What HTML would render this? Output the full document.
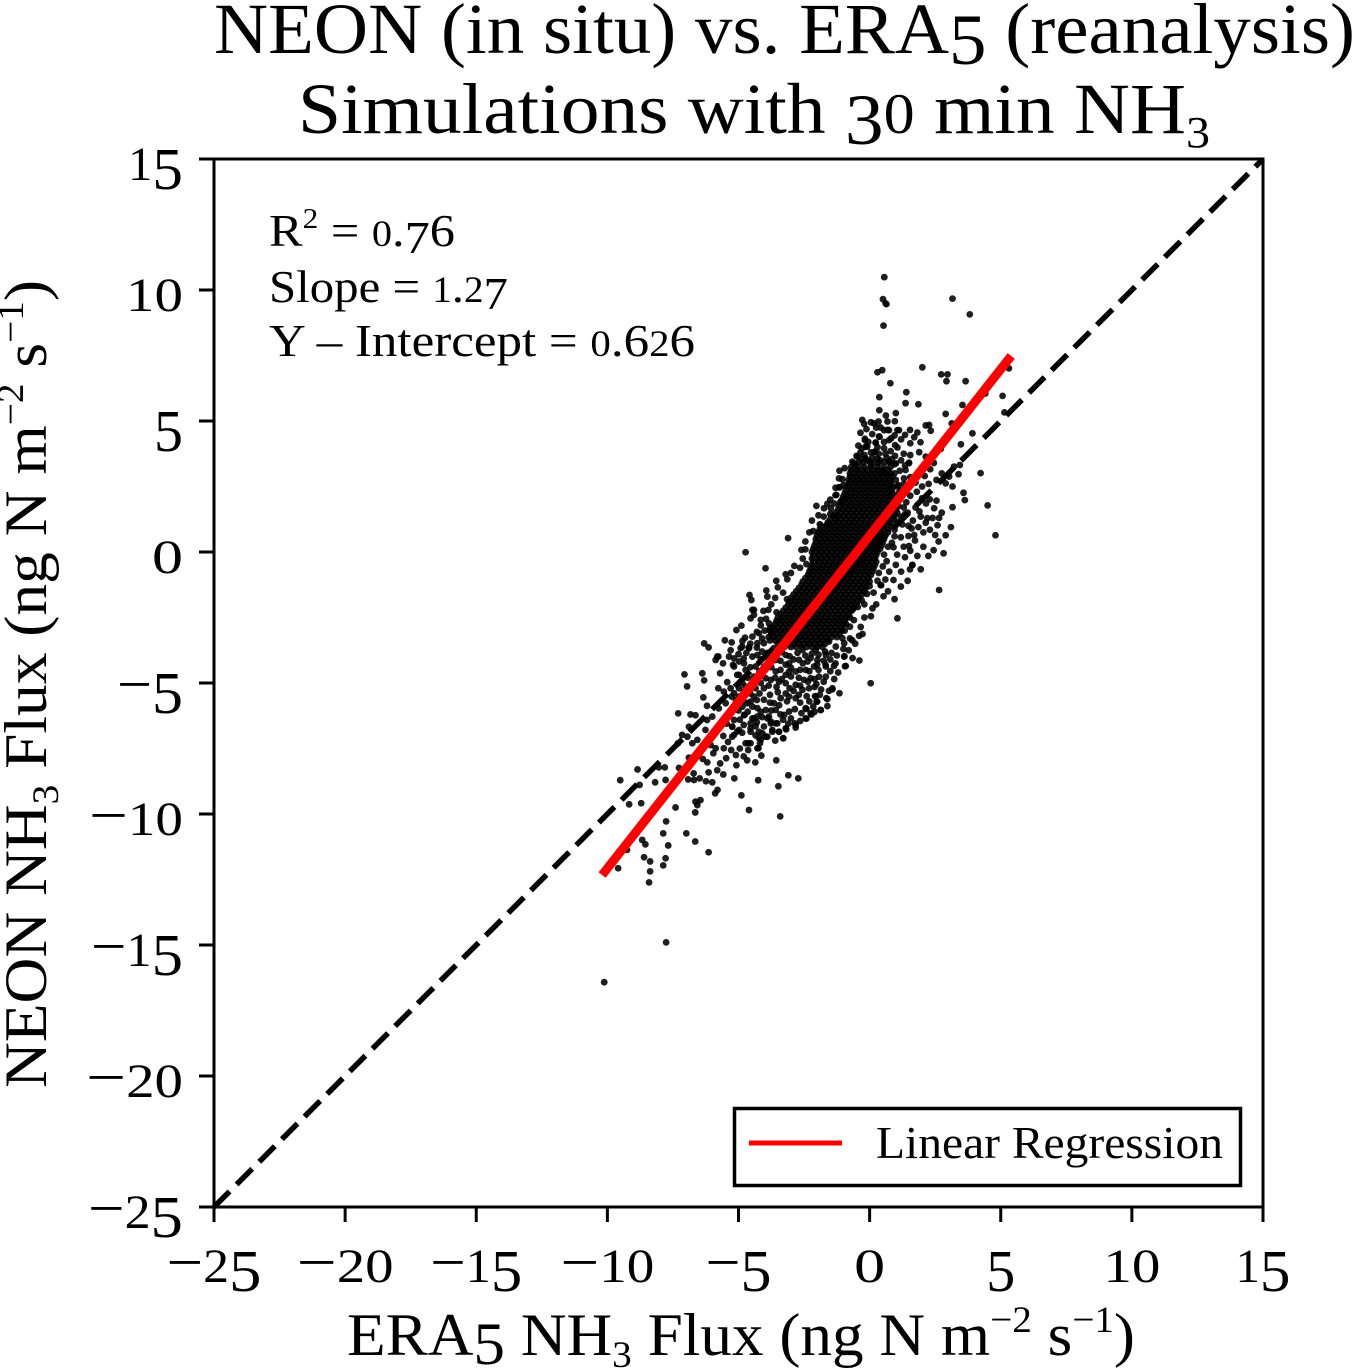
<!DOCTYPE html>
<html lang="en">
<head>
<meta charset="utf-8">
<title>NEON vs ERA5 NH3 Flux</title>
<style>
html,body{margin:0;padding:0;background:#fff;width:1354px;height:1371px;overflow:hidden}
svg{display:block}
text{font-family:"Liberation Serif","DejaVu Serif",serif;fill:#000}
.lo{font-size:.8em}
.hi{baseline-shift:-.15em}
.sup{font-size:.62em;baseline-shift:.62em}
.sub{font-size:.62em;baseline-shift:-.32em}
</style>
</head>
<body>
<svg id="chart" width="1354" height="1371" viewBox="0 0 1354 1371" xmlns="http://www.w3.org/2000/svg">
<rect x="0" y="0" width="1354" height="1371" fill="#fff"/>
<text x="214" y="53" font-size="72" textLength="1141" lengthAdjust="spacingAndGlyphs">NEON (in situ) vs. ERA<tspan class="hi">5</tspan> (reanalysis)</text>
<text x="298" y="133" font-size="72" textLength="912" lengthAdjust="spacingAndGlyphs">Simulations with <tspan class="hi">3</tspan><tspan class="lo">0</tspan> min NH<tspan class="sub">3</tspan></text>
<g id="points"></g>
<g id="lines"></g>
<g id="axes"></g>
<text x="269" y="246" font-size="46" textLength="186" lengthAdjust="spacingAndGlyphs">R<tspan class="sup">2</tspan> = <tspan class="lo">0</tspan>.<tspan class="hi">7</tspan>6</text>
<text x="269" y="302" font-size="46" textLength="239" lengthAdjust="spacingAndGlyphs">Slope = <tspan class="lo">1</tspan>.<tspan class="lo">2</tspan><tspan class="hi">7</tspan></text>
<text x="269" y="356" font-size="46" textLength="426" lengthAdjust="spacingAndGlyphs">Y – Intercept = <tspan class="lo">0</tspan>.6<tspan class="lo">2</tspan>6</text>
<g>
<rect x="734.5" y="1108.5" width="506" height="77" fill="#fff" stroke="#000" stroke-width="3.5"/>
<line x1="749" y1="1143" x2="842" y2="1143" stroke="#f00" stroke-width="5"/>
<text x="876" y="1158" font-size="46" textLength="347" lengthAdjust="spacingAndGlyphs">Linear Regression</text>
</g>
<text x="347" y="1355" font-size="60" textLength="788" lengthAdjust="spacingAndGlyphs">ERA<tspan class="hi">5</tspan> NH<tspan class="sub">3</tspan> Flux (ng N m<tspan class="sup">−2</tspan> s<tspan class="sup">−1</tspan>)</text>
<text transform="translate(46,1088) rotate(-90)" x="0" y="0" font-size="60" textLength="808" lengthAdjust="spacingAndGlyphs">NEON NH<tspan class="sub">3</tspan> Flux (ng N m<tspan class="sup">−2</tspan> s<tspan class="sup">−1</tspan>)</text>
</svg>
<script>
const xTickValues=[-25,-20,-15,-10,-5,0,5,10,15];
const yTickValues=[-25,-20,-15,-10,-5,0,5,10,15];
const regressionSlope=1.27;
const regressionIntercept=0.626;
const regressionXRange=[-10.2,5.4];
const oneToOneRange=[-25,15];

const scatterPairs=[[0.56,10.49],[0.51,9.65],[0.61,9.49],[0.64,9.46],[3.16,9.67],[3.82,9.07],[0.53,8.64],[0.3,6.86],[0.48,6.94],[2.01,7.05],[2.73,6.78],[2.97,6.78],[2.93,6.52],[0.79,6.44],[3.66,6.52],[5.31,7.01],[1.4,6.1],[4.41,6.05],[5.07,5.96],[0.37,5.91],[1.37,5.68],[1.86,5.64],[3.54,5.61],[0.37,5.41],[2.9,5.27],[5.14,5.33],[1,5.3],[0.62,5.21],[-0.28,5.04],[-0.21,4.89],[0.17,4.91],[0.34,4.98],[0.68,4.98],[0.96,4.99],[-0.12,4.69],[0.42,4.75],[0.68,4.66],[1.06,4.65],[1.54,4.66],[1.35,4.47],[1.82,4.56],[1.7,4.38],[2.14,4.83],[2.27,4.85],[2.33,4.63],[3.13,4.91],[3.92,4.53],[1.94,4.19],[3.48,4.11],[2.71,3.93],[1.89,3.81],[-0.18,4.32],[0.36,4.41],[0.82,4.34],[-0.43,4.06],[-0.15,4.02],[0.23,4.18],[0.55,3.96],[1.06,3.99],[0.97,3.67],[0.18,3.82],[-0.5,3.67],[-0.6,3.39],[0.74,3.43],[1.5,3.39],[2.14,3.64],[2.31,3.16],[3.22,3.26],[3.44,3.32],[3.39,2.97],[4.23,3.01],[3.03,2.88],[2.9,2.62],[3.16,2.5],[3.58,2.26],[3.63,1.98],[4.5,1.78],[3.16,1.71],[4.8,0.64],[3.1,0.95],[2.59,1.02],[2.9,0.64],[2.63,0.4],[2.44,0.07],[2.82,-0.05],[2.24,-0.15],[1.82,-0.15],[2.55,1.96],[2.29,2.01],[2.46,1.67],[2.2,1.29],[2.14,1.12],[1.86,0.95],[1.48,1],[2.05,0.75],[1.7,0.65],[1.48,0.61],[1.73,0.44],[1.19,0.56],[0.91,0.18],[1.5,0.23],[1,-0.49],[1.63,-0.49],[1.54,-0.66],[1.95,-0.66],[0.91,-1.07],[1.19,-1.32],[0.42,-1.26],[2.65,-1.45],[-4.73,-0.01],[-3.97,-0.62],[-3.56,-1.1],[-3.14,-1.04],[-3.11,0.53],[-2.6,0.08],[-2.87,-0.53],[-2.41,-0.46],[-2.03,1.76],[-1.74,1.67],[-1.61,1.84],[-1.48,1.67],[-1.29,1.38],[-1.9,1.06],[-1.61,1.03],[-1.27,2.18],[-1.14,2.47],[-1.04,2.78],[-0.91,2.11],[1.3,2.6],[1.55,2.85],[1.8,2.3],[1.4,1.9],[1.75,1.7],[1.35,1.45],[1.65,1.2],[1.15,3.1],[1.35,3.3],[1.2,2.35],
[-0.66,3.45],[-0.15,3.57],[0,3.45],[-0.47,3.64],[0.29,3.57],[0.74,3.45],[1,3.38],[1.5,3.41],[-0.09,4.02],[0.97,4.08],[0.2,3.83],[-0.18,4.27],[0.23,4.17],[0.74,4.27],[1.12,4.65],[0.74,4.65],[0.55,4.65],[0.38,4.4],[0.04,3.38],[1.37,3.13],[1.31,2.81],[0.48,3.06],[-1.17,2.81],[-1.17,2.47],[-1.3,2.17],[-1.11,1.92],[-0.25,3.4],[0.35,3.4],
[-10.12,-16.42],[-7.76,-14.9],[-6.14,-11.46],[-6.65,-11.05],[-6.99,-10.74],[-7.68,-11.2],[-7.87,-10.74],[-7.76,-10.28],[-8.67,-10.99],[-8.55,-11.16],[-9.25,-11.37],[-9.59,-12.07],[-8.6,-11.65],[-8.37,-11.81],[-7.78,-11.69],[-7.87,-11.96],[-8.37,-12.19],[-8.41,-12.61],[-9.51,-8.71],[-8.85,-8.3],[-8.77,-8.89],[-8.18,-8.79],[-7.78,-8.7],[-9.17,-9.63],[-8.71,-9.59],[-7.4,-9.75],[-6.65,-9.94],[-6.57,-9.66],[-6.45,-9.47],[-6.64,-9.53],[-8.04,-8.22],[-7.81,-8.22],[-7.27,-8.24],[-6.89,-7.85],[-7.31,-7.3],[-7.3,-6.16],[-6.83,-6.2],[-6.64,-6.23],[-7.06,-4.67],[-6.96,-5.13],[-6.38,-4.63],[-6.31,-4.9],[-6.34,-5.55],[-6.31,-3.49],[-6.14,-3.64],[-5.52,-3.37],[-5.26,-3.45],[-5.08,-2.98],[-4.89,-2.81],[-4.75,-3.27],[-4.58,-1.64],[-4.51,-1.83],[-3.94,-1.47],[-3.9,-1.7],[-3.86,-2.21],[-4.47,-2.21],[-4.41,-2.4],[-6.89,-6.67],[-7.15,-6.98],[-6.95,-7.05],[-6.76,-7.3],[-6.57,-7.17],[-6.26,-6.79],[-6.2,-5.87],[-6.2,-6.41],[-5.77,-5.2],[-5.56,-5.33],[-5.43,-4.97],[-5.7,-4.63],[-5.87,-4.12],[-5.77,-3.99],[-5.59,-4.25],[-5.36,-3.99],[-5.17,-4.06],[-5.21,-4.31],[-4.86,-3.61],[-4.47,-3.23],[-4.6,-3.64],[-4.8,-4.06],[-5.05,-4.69],[-5.26,-5.52],[-5.49,-5.77],[-6,-6.28],[-5.75,-5.97],[-5.17,-6.41],[-4.77,-6.22],[-5.24,-6.67],[-4.86,-6.9],[-5.58,-7.02],[-5.24,-7.05],[-4.54,-6.86],[-4.41,-6.35],[-4.54,-6.54],[-4.09,-6.92],[-3.9,-7.05],[-3.71,-6.79],[-3.46,-6.86],[-3.77,-6.54],[-3.58,-6.54],[-3.18,-6.77],[-3.3,-7.11],[-2.85,-6.54],[-2.82,-6.7],[-4.22,-7.11],[-4.18,-7.3],[-4.73,-7.3],[-4.54,-7.3],[-4.63,-7.56],[-4.28,-7.49],[-5.28,-7.56],[-5.56,-7.49],[-5.87,-7.49],[-6.06,-7.37],[-5.96,-7.68],[-5.47,-7.87],[-5.7,-8.07],[-6.19,-8.03],[-6.36,-7.9],[-5.08,-8.14],[-4.67,-7.95],[-4.36,-8.03],[-4.13,-7.77],[-3.56,-7.95],[-5.81,-8.33],[-5.58,-8.49],[-6.14,-8.41],[-6.71,-8.45],[-6.92,-8.68],[-6.7,-8.7],[-6.48,-8.64],[-6.24,-8.75],[-6,-8.79],[-5.16,-8.64],[-4.25,-8.71],[-3.1,-8.52],[-2.72,-8.64],[-3.48,-8.94],[-5.8,-9.08],[-5.89,-9.21],[-4.89,-9.29],[-4.6,-9.85],[-3.41,-10.09],[0.04,-5.01],[1.06,-2.53],[-0.39,-4.14],[-0.94,-4.36],[-0.96,-3.98],[-0.66,-3.37],[-0.27,-3.13],[-0.34,-2.86],[-1.15,-5.39],[-1.42,-5.24],[-1.61,-5.61],[-1.61,-5.88],[-1.87,-6.03],[-2.22,-6.2],[-2.41,-6.36],[-2.41,-5.99],[-2.03,-5.04],[-2.02,-5.71],[-2.08,-5.5],[-1.36,-4.35],[-1.68,-4.31],[0.11,-2.15],[0.53,-1.69],[0.44,-1.27],[1.63,-0.5],
[-5.24,-6.66],[-4.98,-6.79],[-4.79,-6.22],[-4.47,-6.35],[-5.17,-6.98],[-4.54,-6.73],[-4.22,-6.86],[-4.03,-6.66],[-3.77,-6.47],[-3.52,-6.54],[-3.71,-6.86],[-3.96,-7.05],[-3.45,-6.86],[-3.2,-6.73],[-2.82,-6.6],[-3.29,-7.11],[-4.15,-7.17],[-4.63,-7.3],[-4.24,-7.49],[-4.66,-5.77],[-4.47,-5.9],[-4.28,-5.96],[-3.96,-6.03],[-3.65,-5.77],[-3.39,-5.58],[-3.07,-5.52],[-2.82,-5.58],[-2.56,-5.26],[-2.31,-5.2],[-2.06,-5.52],[-2,-5.71],[-1.65,-5.58],[-1.86,-6.03],[-2.44,-5.96],[-2.44,-6.35],[-2.25,-6.16],[-3.07,-6.09],[-3.26,-6.22],[-3.58,-6.03],[-4.03,-5.64],[-4.41,-5.52],[-4.54,-5.71],[-3.84,-6.28],[-4.28,-6.28],[-4.85,-5.9],[-4.98,-5.52],[-4.73,-5.14],[-4.35,-5.2],[-4.03,-5.2],[-3.77,-4.88],[-3.45,-4.95],[-3.2,-5.01],[-2.82,-5.07],[-2.5,-4.88],[-2.25,-4.82],[-1.93,-4.76],[-1.67,-4.76],[-3.2,-4.69],[-2.82,-4.56],[-2.44,-4.5],[-2.12,-4.37],[-1.67,-4.37],[-0.97,-3.99],[-0.91,-4.35],[-1.42,-5.2],[-1.04,-3.29],[-0.97,-3.48],[-1.55,-3.42],[-1.29,-3.61],[-4.28,-3.48],[-4.6,-3.67],[-4.92,-3.67],[-5.81,-3.99],[-4.98,-4.18],[-5.17,-4.37],[-4.79,-4.25],[-4.47,-3.99],[-4.03,-3.48],[-3.71,-3.1],[-4.22,-3.1],[-4.54,-2.53],[-4.41,-2.21],[-4.15,-2.59],[-3.84,-2.72],[-5.17,-5.39],[-4.98,-5.2],[-5.3,-5.2],[-4.73,-4.5],[-4.98,-4.69],[-4.35,-4.37],[-4.03,-4.37],[-4.41,-4.76],[-3.96,-4.82],[-3.58,-4.56],[-3.58,-4.12],[-3.07,-4.25],[-2.69,-4.12],[-3.2,-3.93],[-2.56,-3.74],[-3.96,-3.99],[-4.28,-3.93],[-3.65,-3.67],[-3.2,-3.48],[-2.82,-3.36],[-2.06,-3.74],[-1.67,-3.93],[-1.99,-4.12],[-2.37,-4.18],[-3.07,-4.56]];

const fringePairs=[[-3.9,-3.85],[-3.6,-3.95],[-3.35,-3.82],[-3.05,-3.98],[-2.75,-3.85],[-2.45,-3.95],[-2.2,-3.88],[-1.95,-3.92],[-1.7,-3.8],[-1.45,-3.85],[-1.25,-3.95],
[-4.15,-4.1],[-3.8,-4.2],[-3.4,-4.15],[-3.2,-4.3],[-2.9,-4.1],[-2.55,-4.25],[-2.25,-4.05],[-2,-4.3],[-1.75,-4.15],[-1.5,-4.1],[-1.3,-4.25],
[-4.55,-4.4],[-4.2,-4.55],[-3.75,-4.4],[-3.4,-4.5],[-3,-4.42],[-2.65,-4.5],[-2.3,-4.55],[-1.95,-4.5],[-1.5,-4.55],[-1.2,-4.6],
[-4.65,-4.8],[-4.25,-4.7],[-3.6,-4.8],[-3.35,-4.85],[-3,-4.75],[-2.7,-4.8],[-2.35,-4.95],[-2.1,-4.85],[-1.75,-4.95],[-1.35,-4.85],
[-4.85,-5],[-4.5,-5.05],[-4.15,-5],[-3.85,-5.1],[-3.55,-5.15],[-3.05,-5.2],[-2.65,-5.1],[-2.1,-5.15],[-1.85,-5.25],[-1.55,-5.3],
[-4.8,-5.35],[-4.55,-5.4],[-4.2,-5.4],[-3.8,-5.45],[-3.5,-5.35],[-3.2,-5.4],[-2.9,-5.3],[-2.7,-5.45],[-2.4,-5.5],[-1.9,-5.45],
[-5.1,-5.65],[-4.8,-5.7],[-4.3,-5.65],[-3.8,-5.75],[-3.45,-5.85],[-3.15,-5.7],[-2.65,-5.75],[-2.3,-5.7],[-2.15,-5.9],
[-5,-6.05],[-4.65,-6.1],[-4.15,-6.1],[-3.75,-6.05],[-3.4,-6.2],[-2.85,-6],[-2.6,-6.15],[-2.1,-6.1],
[-5.35,-6.2],[-4.95,-6.4],[-4.3,-6.5],[-4.1,-6.3],[-3.3,-6.4],[-3,-6.35],[-2.65,-6.45],
[-5.45,-6.55],[-4.8,-6.6],[-4.35,-6.65],[-3.9,-6.35],[-3.1,-6.55],[-5.05,-6.85],[-4.35,-7],[-3.6,-7.2],[-5.4,-7.25],[-4.95,-7.5],[-5.1,-7.75],[-4.8,-7.8],
[-5.3,-3.75],[-5,-3.9],[-4.7,-3.85],[-4.55,-3.5],[-4.3,-3.65],[-4.1,-3.8],[-4.85,-3.4],[-4.1,-3.3],[-4.3,-3.05],[-4,-3],[-4.15,-2.8],[-3.95,-2.55],[-3.8,-2.9],[-4.05,-2.25],[-3.75,-2],[-3.6,-1.75],[-3.55,-2.3],[-3.5,-1.35],[-3.3,-1.55],[-3.15,-1.8],[-3.2,-0.85],[-3,-0.8],[-2.65,-0.6],[-2.55,-0.25],[-2.45,0.1],[-2.45,0.4],[-2.3,0.75],[-2.15,0.8],[-2.2,1.2],[-1.95,1.4],[-1.75,1.35],[-1.5,1.45],[-1.5,2],[-1.35,1.85],[-1.3,2.45],[-1.15,3.1],[-0.95,3.2],[-1,2.55],
[-0.95,-3],[-0.75,-2.85],[-0.6,-2.6],[-0.65,-2.2],[-0.45,-2.1],[-0.3,-1.85],[-0.2,-2],[-0.1,-1.6],[0,-1.3],[0.15,-1.55],[0.3,-1.1],[0.35,-0.8],[0.5,-0.55],[0.55,-0.1],[0.65,-0.35],[0.7,0.2],[0.85,0.35],[0.95,0.6],[0.95,0.85],[1.05,1.15],[1.2,1.35],[1.25,1.05],[1.3,1.7],[1.15,2],[1.55,2.15],[1.1,2.55],[1.45,1.5],[1.6,0.9],[1.3,0.2],[1.05,-0.1],[0.75,-0.75],[0.6,-1.05],[0.25,-2],[0.05,-2.45],[-0.2,-2.5],[-0.4,-3.2],[-0.55,-3.5],[-0.75,-3.3],[-0.8,-3.75],[-1,-3.7],[-0.65,-4.05],
[-0.55,3.35],[-0.4,3.45],[-0.3,3.55],[-0.2,3.7],[-0.1,3.5],[0.1,3.6],[0.15,3.4],[0.4,3.5],[0.55,3.45],[0.65,3.6],[0.85,3.55],[0.95,3.35],[1.2,3.5],[-0.35,3.8],[0.05,3.8],[0.35,3.75],[0.6,3.75],[0.8,3.85],[1.3,3.75],[1.55,3.7],[-0.3,3.95],[0.3,4],[-0.05,4.2],[0.55,4.2],[0.95,4.45],[1.2,4.3],[1.55,4.15],[0.1,4.5],[-0.35,4.55],[0.25,4.75],[0.05,4.95],
[1.9,3.1],[2.1,2.9],[1.75,2.65],[2,2.5],[2.25,2.6],[2.55,2.75],[2.75,3],[2.45,3.4],[2,2.05],[2.15,1.85],[1.9,1.55],[2.75,1.5],[2.4,1.3],[2.65,1.3],[1.95,1.35],[2.3,0.85],[2.5,0.65],[1.55,0.05],[2.05,0.2],[1.35,-0.2],[1.2,-0.75],[0.7,-1.5],[0.95,-1.8],[1.45,-1.1]];

const denseRowY=[-3.625,-3.5,-3.375,-3.25,-3.125,-3,-2.875,-2.75,-2.625,-2.5,-2.375,-2.25,-2.125,-2,-1.875,-1.75,-1.625,-1.5,-1.375,-1.25,-1.125,-1,-0.875,-0.75,-0.625,-0.5,-0.375,-0.25,-0.125,0,0.125,0.25,0.375,0.5,0.625,0.75,0.875,1,1.125,1.25,1.375,1.5,1.625,1.75,1.875,2,2.125,2.25,2.375,2.5,2.625,2.75,2.875,3,3.125,3.25];
const denseRowX=[
[-3.25,-3,-2.8,-2.6,-2.4,-2.2,-2,-1.8],
[-3.5,-3.3,-3.1,-2.9,-2.7,-2.5,-2.3,-2.1,-1.9,-1.7],
[-3.8,-3.6,-3.4,-3.2,-3,-2.8,-2.6,-2.4,-2.2,-2,-1.8,-1.6],
[-3.85,-3.65,-3.45,-3.25,-3.05,-2.85,-2.65,-2.45,-2.25,-2.05,-1.85,-1.65,-1.45,-1.25],
[-3.75,-3.55,-3.35,-3.15,-2.95,-2.75,-2.55,-2.35,-2.15,-1.95,-1.75,-1.55,-1.35,-1.15],
[-3.8,-3.6,-3.4,-3.2,-3,-2.8,-2.6,-2.4,-2.2,-2,-1.8,-1.6,-1.4,-1.2,-1.05],
[-3.7,-3.5,-3.3,-3.1,-2.9,-2.7,-2.5,-2.3,-2.1,-1.9,-1.7,-1.5,-1.3,-1.1],
[-3.6,-3.4,-3.2,-3,-2.8,-2.6,-2.4,-2.2,-2,-1.8,-1.6,-1.4,-1.2,-1,-0.9],
[-3.55,-3.35,-3.15,-2.95,-2.75,-2.55,-2.35,-2.15,-1.95,-1.75,-1.55,-1.35,-1.15,-0.95],
[-3.5,-3.3,-3.1,-2.9,-2.7,-2.5,-2.3,-2.1,-1.9,-1.7,-1.5,-1.3,-1.1,-0.9,-0.75],
[-3.4,-3.2,-3,-2.8,-2.6,-2.4,-2.2,-2,-1.8,-1.6,-1.4,-1.2,-1,-0.8],
[-3.3,-3.1,-2.9,-2.7,-2.5,-2.3,-2.1,-1.9,-1.7,-1.5,-1.3,-1.1,-0.9,-0.7],
[-3.2,-3,-2.8,-2.6,-2.4,-2.2,-2,-1.8,-1.6,-1.4,-1.2,-1,-0.8,-0.6],
[-3.1,-2.9,-2.7,-2.5,-2.3,-2.1,-1.9,-1.7,-1.5,-1.3,-1.1,-0.9,-0.7,-0.5],
[-3.05,-2.85,-2.65,-2.45,-2.25,-2.05,-1.85,-1.65,-1.45,-1.25,-1.05,-0.85,-0.65,-0.45],
[-3,-2.8,-2.6,-2.4,-2.2,-2,-1.8,-1.6,-1.4,-1.2,-1,-0.8,-0.6,-0.4],
[-2.9,-2.7,-2.5,-2.3,-2.1,-1.9,-1.7,-1.5,-1.3,-1.1,-0.9,-0.7,-0.5,-0.3],
[-2.8,-2.6,-2.4,-2.2,-2,-1.8,-1.6,-1.4,-1.2,-1,-0.8,-0.6,-0.4,-0.2],
[-2.7,-2.5,-2.3,-2.1,-1.9,-1.7,-1.5,-1.3,-1.1,-0.9,-0.7,-0.5,-0.3,-0.15],
[-2.6,-2.4,-2.2,-2,-1.8,-1.6,-1.4,-1.2,-1,-0.8,-0.6,-0.4,-0.2],
[-2.55,-2.35,-2.15,-1.95,-1.75,-1.55,-1.35,-1.15,-0.95,-0.75,-0.55,-0.35,-0.15,0],
[-2.45,-2.25,-2.05,-1.85,-1.65,-1.45,-1.25,-1.05,-0.85,-0.65,-0.45,-0.25,-0.05],
[-2.35,-2.15,-1.95,-1.75,-1.55,-1.35,-1.15,-0.95,-0.75,-0.55,-0.35,-0.15,0.05],
[-2.3,-2.1,-1.9,-1.7,-1.5,-1.3,-1.1,-0.9,-0.7,-0.5,-0.3,-0.1,0.1],
[-2.25,-2.05,-1.85,-1.65,-1.45,-1.25,-1.05,-0.85,-0.65,-0.45,-0.25,-0.05,0.15],
[-2.2,-2,-1.8,-1.6,-1.4,-1.2,-1,-0.8,-0.6,-0.4,-0.2,0,0.2],
[-2.15,-1.95,-1.75,-1.55,-1.35,-1.15,-0.95,-0.75,-0.55,-0.35,-0.15,0.05,0.25],
[-2.2,-2,-1.8,-1.6,-1.4,-1.2,-1,-0.8,-0.6,-0.4,-0.2,0,0.2],
[-2.15,-1.95,-1.75,-1.55,-1.35,-1.15,-0.95,-0.75,-0.55,-0.35,-0.15,0.05,0.25],
[-2.2,-2,-1.8,-1.6,-1.4,-1.2,-1,-0.8,-0.6,-0.4,-0.2,0,0.15,0.3],
[-2.15,-1.95,-1.75,-1.55,-1.35,-1.15,-0.95,-0.75,-0.55,-0.35,-0.15,0.05,0.25,0.4],
[-2.1,-1.9,-1.7,-1.5,-1.3,-1.1,-0.9,-0.7,-0.5,-0.3,-0.1,0.1,0.3,0.45],
[-2.05,-1.85,-1.65,-1.45,-1.25,-1.05,-0.85,-0.65,-0.45,-0.25,-0.05,0.15,0.35,0.5],
[-2.05,-1.85,-1.65,-1.45,-1.25,-1.05,-0.85,-0.65,-0.45,-0.25,-0.05,0.15,0.35,0.55],
[-2,-1.8,-1.6,-1.4,-1.2,-1,-0.8,-0.6,-0.4,-0.2,0,0.2,0.4,0.6],
[-1.95,-1.75,-1.55,-1.35,-1.15,-0.95,-0.75,-0.55,-0.35,-0.15,0.05,0.25,0.45,0.7],
[-1.9,-1.7,-1.5,-1.3,-1.1,-0.9,-0.7,-0.5,-0.3,-0.1,0.1,0.3,0.5,0.7],
[-1.85,-1.65,-1.45,-1.25,-1.05,-0.85,-0.65,-0.45,-0.25,-0.05,0.15,0.35,0.55,0.8],
[-1.6,-1.4,-1.2,-1,-0.8,-0.6,-0.4,-0.2,0,0.2,0.4,0.6,0.8],
[-1.5,-1.3,-1.1,-0.9,-0.7,-0.5,-0.3,-0.1,0.1,0.3,0.5,0.7,0.9],
[-1.4,-1.2,-1,-0.8,-0.6,-0.4,-0.2,0,0.2,0.4,0.6,0.8,0.95],
[-1.3,-1.1,-0.9,-0.7,-0.5,-0.3,-0.1,0.1,0.3,0.5,0.7,0.9,1.05],
[-1.2,-1,-0.8,-0.6,-0.4,-0.2,0,0.2,0.4,0.6,0.8,1],
[-1.15,-0.95,-0.75,-0.55,-0.35,-0.15,0.05,0.25,0.45,0.65,0.85,1.1],
[-1.1,-0.9,-0.7,-0.5,-0.3,-0.1,0.1,0.3,0.5,0.7,0.9,1.05],
[-1.05,-0.85,-0.65,-0.45,-0.25,-0.05,0.15,0.35,0.55,0.75,0.95,1.15],
[-1,-0.8,-0.6,-0.4,-0.2,0,0.2,0.4,0.6,0.8,1],
[-0.95,-0.75,-0.55,-0.35,-0.15,0.05,0.25,0.45,0.65,0.85,1.1],
[-0.9,-0.7,-0.5,-0.3,-0.1,0.1,0.3,0.5,0.7,0.85],
[-0.85,-0.65,-0.45,-0.25,-0.05,0.15,0.35,0.55,0.75,0.9,1.05],
[-0.8,-0.6,-0.4,-0.2,0,0.2,0.4,0.6,0.8],
[-0.8,-0.6,-0.4,-0.2,0,0.2,0.4,0.6,0.8,1],
[-0.75,-0.55,-0.35,-0.15,0.05,0.25,0.45,0.65,0.85],
[-0.75,-0.55,-0.35,-0.15,0.05,0.25,0.45,0.65,0.8,0.95],
[-0.7,-0.5,-0.3,-0.1,0.1,0.3,0.5,0.7],
[-0.7,-0.45,-0.2,0.05,0.3,0.55,0.8]
];

const NS='http://www.w3.org/2000/svg';
const plotLeft=214, plotRight=1263, plotTop=159, plotBottom=1207;
const domainMin=-25, domainMax=15;
function xScale(v){return plotLeft+(v-domainMin)/(domainMax-domainMin)*(plotRight-plotLeft);}
function yScale(v){return plotBottom-(v-domainMin)/(domainMax-domainMin)*(plotBottom-plotTop);}
function make(tag,attrs){
  const el=document.createElementNS(NS,tag);
  for(const k in attrs){el.setAttribute(k,attrs[k]);}
  return el;
}
const pointsLayer=document.getElementById('points');
function addPoint(x,y){
  const c=make('circle',{cx:xScale(x).toFixed(2),cy:yScale(y).toFixed(2),r:3.4,fill:'#000','fill-opacity':0.88});
  
  
  pointsLayer.appendChild(c);
}
scatterPairs.forEach(function(p){addPoint(p[0],p[1]);});
fringePairs.forEach(function(p){addPoint(p[0],p[1]);});
denseRowX.forEach(function(row,i){row.forEach(function(x){addPoint(x,denseRowY[i]);});});

const linesLayer=document.getElementById('lines');
const diag=make('line',{x1:xScale(oneToOneRange[0]),y1:yScale(oneToOneRange[0]),x2:xScale(oneToOneRange[1]),y2:yScale(oneToOneRange[1]),stroke:'#000','stroke-width':5.5,'stroke-dasharray':'22 10'});


linesLayer.appendChild(diag);
const reg=make('line',{x1:xScale(regressionXRange[0]),y1:yScale(regressionSlope*regressionXRange[0]+regressionIntercept),x2:xScale(regressionXRange[1]),y2:yScale(regressionSlope*regressionXRange[1]+regressionIntercept),stroke:'#f00','stroke-width':9});


linesLayer.appendChild(reg);

const axesLayer=document.getElementById('axes');
const frame=make('rect',{x:plotLeft,y:plotTop,width:plotRight-plotLeft,height:plotBottom-plotTop,fill:'none',stroke:'#000','stroke-width':3});


axesLayer.appendChild(frame);

const digitWidth={'−':37,'0':31,'1':26,'2':29,'3':29,'4':29,'5':29,'6':29,'7':29,'8':29,'9':29};
function tickText(v,attrs){
  const s=(v<0?'−':'')+Math.abs(v);
  let w=0;
  const t=make('text',attrs);
  t.setAttribute('font-size','59');
  for(const ch of s){
    w+=digitWidth[ch];
    const sp=make('tspan',{});
    if(ch==='0'||ch==='1'||ch==='2'){sp.setAttribute('class','lo');}
    else if(ch==='3'||ch==='4'||ch==='5'||ch==='7'||ch==='9'){sp.setAttribute('class','hi');}
    sp.textContent=ch;
    t.appendChild(sp);
  }
  t.setAttribute('textLength',w);
  t.setAttribute('lengthAdjust','spacingAndGlyphs');
  return t;
}
xTickValues.forEach(function(v){
  const m=make('line',{x1:xScale(v),x2:xScale(v),y1:plotBottom,y2:plotBottom+15,stroke:'#000','stroke-width':3});
  
  
  axesLayer.appendChild(m);
  const t=tickText(v,{x:xScale(v),y:plotBottom+75,'text-anchor':'middle'});
  
  
  axesLayer.appendChild(t);
});
yTickValues.forEach(function(v){
  const m=make('line',{x1:plotLeft-15,x2:plotLeft,y1:yScale(v),y2:yScale(v),stroke:'#000','stroke-width':3});
  
  
  axesLayer.appendChild(m);
  const t=tickText(v,{x:183,y:yScale(v)+21,'text-anchor':'end'});
  
  
  axesLayer.appendChild(t);
});
</script>
</body>
</html>
